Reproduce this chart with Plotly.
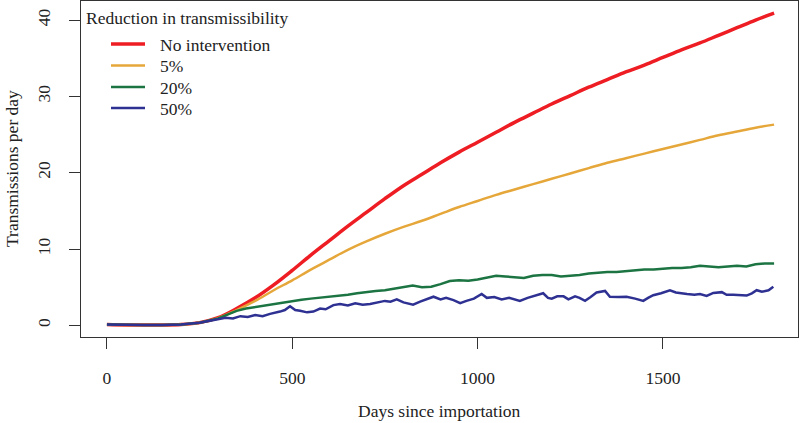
import plotly.graph_objects as go

# ---------------- data ----------------
days_smooth = list(range(0, 1801, 50))
no_intervention = [0.1, 0.05, 0.05, 0.05, 0.1, 0.35, 1.0, 2.2, 3.6, 5.3, 7.2, 9.2, 11.1, 13.0,
                   14.8, 16.6, 18.3, 19.8, 21.3, 22.7, 24.0, 25.3, 26.6, 27.8, 29.0, 30.1,
                   31.2, 32.2, 33.2, 34.1, 35.1, 36.1, 37.0, 38.0, 39.0, 40.0, 40.9]
red5 = [0.1, 0.05, 0.05, 0.05, 0.1, 0.35, 0.95, 2.0, 3.2, 4.6, 5.9, 7.3, 8.6, 9.9,
        11.0, 12.0, 12.9, 13.7, 14.6, 15.5, 16.3, 17.1, 17.8, 18.5, 19.2, 19.9,
        20.6, 21.3, 21.9, 22.5, 23.1, 23.7, 24.3, 24.9, 25.4, 25.9, 26.3]

days_20 = [0, 50, 100, 150, 200, 250, 300, 325, 350, 375, 400, 425, 450, 475, 500, 525,
           550, 575, 600, 625, 650, 675, 700, 725, 750, 775, 800, 825, 850, 875, 900,
           925, 950, 975, 1000, 1025, 1050, 1075, 1100, 1125, 1150, 1175, 1200, 1225,
           1250, 1275, 1300, 1325, 1350, 1375, 1400, 1425, 1450, 1475, 1500, 1525,
           1550, 1575, 1600, 1625, 1650, 1675, 1700, 1725, 1750, 1775, 1800]
red20 = [0.1, 0.05, 0.05, 0.05, 0.1, 0.35, 0.9, 1.4, 1.9, 2.2, 2.4, 2.6, 2.8, 3.0, 3.2,
         3.35, 3.5, 3.6, 3.75, 3.9, 4.0, 4.2, 4.4, 4.5, 4.6, 4.8, 5.0, 5.2, 5.0, 5.05,
         5.4, 5.8, 5.9, 5.85, 6.0, 6.2, 6.5, 6.4, 6.3, 6.2, 6.5, 6.6, 6.6, 6.4, 6.5,
         6.6, 6.8, 6.9, 7.0, 7.0, 7.1, 7.2, 7.3, 7.3, 7.4, 7.5, 7.5, 7.6, 7.8, 7.7,
         7.6, 7.7, 7.8, 7.7, 8.0, 8.1, 8.1]

days_50 = [0, 50, 100, 150, 200, 250, 300, 320, 340, 360, 380, 400, 420, 440, 467, 480,
           494, 508, 521, 540, 557, 575, 590, 611, 629, 650, 670, 690, 710, 730, 750,
           765, 782, 800, 826, 845, 865, 881, 900, 915, 935, 953, 970, 990, 1011, 1025,
           1045, 1065, 1085, 1100, 1114, 1135, 1155, 1177, 1190, 1200, 1215, 1232, 1245,
           1263, 1275, 1290, 1305, 1321, 1344, 1357, 1380, 1402, 1425, 1447, 1460, 1474,
           1495, 1519, 1535, 1546, 1565, 1585, 1600, 1618, 1636, 1659, 1672, 1690, 1710,
           1726, 1740, 1753, 1767, 1785, 1798]
red50 = [0.1, 0.05, 0.05, 0.05, 0.1, 0.35, 0.8, 1.0, 0.9, 1.2, 1.1, 1.35, 1.2, 1.5, 1.8,
         2.0, 2.5, 2.0, 1.9, 1.7, 1.8, 2.2, 2.1, 2.65, 2.8, 2.6, 2.9, 2.7, 2.8, 3.0, 3.2,
         3.1, 3.4, 3.0, 2.7, 3.1, 3.5, 3.75, 3.4, 3.6, 3.3, 2.9, 3.2, 3.5, 4.1, 3.6,
         3.7, 3.4, 3.6, 3.4, 3.2, 3.6, 3.9, 4.2, 3.6, 3.5, 3.8, 3.8, 3.4, 3.8, 3.6,
         3.2, 3.7, 4.3, 4.5, 3.75, 3.7, 3.75, 3.5, 3.2, 3.6, 3.95, 4.2, 4.6, 4.3, 4.2,
         4.1, 4.0, 4.1, 3.85, 4.25, 4.35, 4.0, 4.0, 3.9, 3.9, 4.2, 4.6, 4.4, 4.6, 5.05]

legend_title = "Reduction in transmissibility"
series_names = ["No intervention", "5%", "20%", "50%"]
series_colors = ["#EE1D23", "#E6A73A", "#1B7442", "#2E3192"]
series_widths = [3.5, 2.5, 2.5, 2.5]
x_ticks = [0, 500, 1000, 1500]
y_ticks = [0, 10, 20, 30, 40]

# ---------------- figure ----------------
FONT = "Liberation Serif"
W, H = 800, 423
ML, MR, MT, MB = 81, 2, 1, 86
PW, PH = W - ML - MR, H - MT - MB

def px_to_paper_x(px):
    return (px - ML) / PW

def px_to_paper_y(py):
    return (H - MB - py) / PH

fig = go.Figure()
series = [(days_smooth, no_intervention, "spline"), (days_smooth, red5, "spline"),
          (days_20, red20, "linear"), (days_50, red50, "linear")]
for (xs, ys, shape), name, col, lw in zip(series, series_names, series_colors, series_widths):
    fig.add_trace(go.Scatter(x=xs, y=ys, mode="lines", name=name,
                             line=dict(color=col, width=lw, shape=shape),
                             showlegend=False))

axis_common = dict(showline=True, linecolor="#333333", linewidth=1, mirror=True,
                   ticks="outside", ticklen=11, tickwidth=1, tickcolor="#333333",
                   showgrid=False, zeroline=False,
                   tickfont=dict(family=FONT, size=17.5, color="#222222"))
fig.update_xaxes(range=[-70, 1864.5], tickvals=x_ticks, ticklabelstandoff=14, **axis_common)
fig.update_yaxes(range=[-1.53, 42.5], tickvals=y_ticks, tickangle=-90, ticklabelstandoff=12,
                 **axis_common)

annotations = [
    dict(text="Days since importation", x=0.5, y=0, xref="paper", yref="paper",
         xanchor="center", yanchor="middle", yshift=-74, showarrow=False,
         font=dict(family=FONT, size=17.5, color="#222222")),
    dict(text="Transmissions per day", x=0, y=0.5, xref="paper", yref="paper",
         xanchor="center", yanchor="middle", xshift=-69, textangle=-90, showarrow=False,
         font=dict(family=FONT, size=17.5, color="#222222")),
    dict(text=legend_title, x=px_to_paper_x(84), y=px_to_paper_y(18), xref="paper",
         yref="paper", xanchor="left", yanchor="middle", showarrow=False,
         font=dict(family=FONT, size=17.5, color="#222222")),
]
shapes = []
row_y = [44, 65.5, 87, 108]
for name, col, lw, ry in zip(series_names, series_colors, series_widths, row_y):
    shapes.append(dict(type="line", xref="paper", yref="paper",
                       x0=px_to_paper_x(111), x1=px_to_paper_x(145),
                       y0=px_to_paper_y(ry), y1=px_to_paper_y(ry),
                       line=dict(color=col, width=lw)))
    annotations.append(dict(text=name, x=px_to_paper_x(158), y=px_to_paper_y(ry + 1),
                            xref="paper", yref="paper", xanchor="left", yanchor="middle",
                            showarrow=False,
                            font=dict(family=FONT, size=17.5, color="#222222")))

fig.update_layout(width=W, height=H, margin=dict(l=ML, r=MR, t=MT, b=MB, autoexpand=False),
                  plot_bgcolor="white", paper_bgcolor="white",
                  annotations=annotations, shapes=shapes, showlegend=False)

fig.write_html("out.html", config={"displayModeBar": False},
               post_script="document.body.style.margin='0';document.body.style.overflow='hidden';")
